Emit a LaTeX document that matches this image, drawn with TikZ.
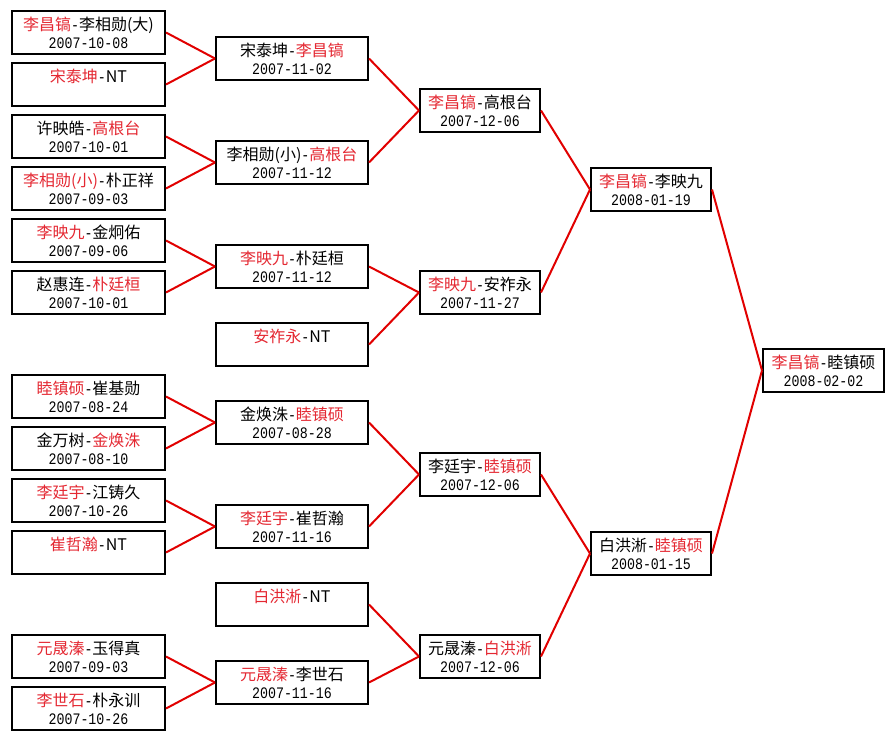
\documentclass[tikz,border=0pt]{standalone}
\usepackage{fontspec}
\usepackage{xcolor}
\newfontfamily\cjk{Noto Sans CJK SC}
\newfontfamily\monofnt[FakeStretch=0.83]{Liberation Mono}
\definecolor{namered}{RGB}{228,40,50}
\definecolor{linered}{RGB}{225,0,0}
\newcommand\R[1]{\textcolor{namered}{#1}}
\newcommand\Dt[1]{{\monofnt\fontsize{16}{18}\selectfont\strut #1}}
\newcommand\Ln{\rule{0pt}{20pt}}
\newcommand\hy{{\monofnt -}}
\tikzset{
  game/.style={draw=black, line width=2pt, minimum height=43pt, inner sep=0pt,
    align=center, font=\cjk\fontsize{16}{18}\selectfont},
  wa/.style={game, minimum width=153pt},
  wb/.style={game, minimum width=152pt},
  wc/.style={game, minimum width=120pt},
  wd/.style={game, minimum width=121pt},
  conn/.style={draw=linered, line width=2pt}
}
\begin{document}
\begin{tikzpicture}[x=1pt,y=-1pt]
\useasboundingbox (0,0) rectangle (895,741);
% column 1
\node[wa] (c1)  at (88.5,32.5)  {\Ln\R{李昌镐}\hy 李相勋(大)\\\Dt{2007-10-08}};
\node[wa] (c2)  at (88.5,84.5)  {\Ln\R{宋泰坤}\hy NT\\\Dt{}};
\node[wa] (c3)  at (88.5,136.5) {\Ln 许映皓\hy\R{高根台}\\\Dt{2007-10-01}};
\node[wa] (c4)  at (88.5,188.5) {\Ln\R{李相勋(小)}\hy 朴正祥\\\Dt{2007-09-03}};
\node[wa] (c5)  at (88.5,240.5) {\Ln\R{李映九}\hy 金炯佑\\\Dt{2007-09-06}};
\node[wa] (c6)  at (88.5,292.5) {\Ln 赵惠连\hy\R{朴廷桓}\\\Dt{2007-10-01}};
\node[wa] (c7)  at (88.5,396.5) {\Ln\R{睦镇硕}\hy 崔基勋\\\Dt{2007-08-24}};
\node[wa] (c8)  at (88.5,448.5) {\Ln 金万树\hy\R{金焕洙}\\\Dt{2007-08-10}};
\node[wa] (c9)  at (88.5,500.5) {\Ln\R{李廷宇}\hy 江铸久\\\Dt{2007-10-26}};
\node[wa] (c10) at (88.5,552.5) {\Ln\R{崔哲瀚}\hy NT\\\Dt{}};
\node[wa] (c11) at (88.5,656.5) {\Ln\R{元晟溱}\hy 玉得真\\\Dt{2007-09-03}};
\node[wa] (c12) at (88.5,708.5) {\Ln\R{李世石}\hy 朴永训\\\Dt{2007-10-26}};
% column 2
\node[wb] (a) at (292,58.5)  {\Ln 宋泰坤\hy\R{李昌镐}\\\Dt{2007-11-02}};
\node[wb] (b) at (292,162.5) {\Ln 李相勋(小)\hy\R{高根台}\\\Dt{2007-11-12}};
\node[wb] (c) at (292,266.5) {\Ln\R{李映九}\hy 朴廷桓\\\Dt{2007-11-12}};
\node[wb] (d) at (292,344.5) {\Ln\R{安祚永}\hy NT\\\Dt{}};
\node[wb] (e) at (292,422.5) {\Ln 金焕洙\hy\R{睦镇硕}\\\Dt{2007-08-28}};
\node[wb] (f) at (292,526.5) {\Ln\R{李廷宇}\hy 崔哲瀚\\\Dt{2007-11-16}};
\node[wb] (g) at (292,604.5) {\Ln\R{白洪淅}\hy NT\\\Dt{}};
\node[wb] (h) at (292,682.5) {\Ln\R{元晟溱}\hy 李世石\\\Dt{2007-11-16}};
% column 3
\node[wc] (i) at (480,110.5) {\Ln\R{李昌镐}\hy 高根台\\\Dt{2007-12-06}};
\node[wc] (j) at (480,292.5) {\Ln\R{李映九}\hy 安祚永\\\Dt{2007-11-27}};
\node[wc] (k) at (480,474.5) {\Ln 李廷宇\hy\R{睦镇硕}\\\Dt{2007-12-06}};
\node[wc] (l) at (480,656.5) {\Ln 元晟溱\hy\R{白洪淅}\\\Dt{2007-12-06}};
% column 4
\node[wc] (m) at (651,189.5) {\Ln\R{李昌镐}\hy 李映九\\\Dt{2008-01-19}};
\node[wc] (n) at (651,553.5) {\Ln 白洪淅\hy\R{睦镇硕}\\\Dt{2008-01-15}};
% final
\node[wd] (fin) at (823.5,370.5) {\Ln\R{李昌镐}\hy 睦镇硕\\\Dt{2008-02-02}};
% connectors
\draw[conn] (c1.east) -- (a.west);
\draw[conn] (c2.east) -- (a.west);
\draw[conn] (c3.east) -- (b.west);
\draw[conn] (c4.east) -- (b.west);
\draw[conn] (c5.east) -- (c.west);
\draw[conn] (c6.east) -- (c.west);
\draw[conn] (c7.east) -- (e.west);
\draw[conn] (c8.east) -- (e.west);
\draw[conn] (c9.east) -- (f.west);
\draw[conn] (c10.east) -- (f.west);
\draw[conn] (c11.east) -- (h.west);
\draw[conn] (c12.east) -- (h.west);
\draw[conn] (a.east) -- (i.west);
\draw[conn] (b.east) -- (i.west);
\draw[conn] (c.east) -- (j.west);
\draw[conn] (d.east) -- (j.west);
\draw[conn] (e.east) -- (k.west);
\draw[conn] (f.east) -- (k.west);
\draw[conn] (g.east) -- (l.west);
\draw[conn] (h.east) -- (l.west);
\draw[conn] (i.east) -- (m.west);
\draw[conn] (j.east) -- (m.west);
\draw[conn] (k.east) -- (n.west);
\draw[conn] (l.east) -- (n.west);
\draw[conn] (m.east) -- (fin.west);
\draw[conn] (n.east) -- (fin.west);
\end{tikzpicture}
\end{document}
